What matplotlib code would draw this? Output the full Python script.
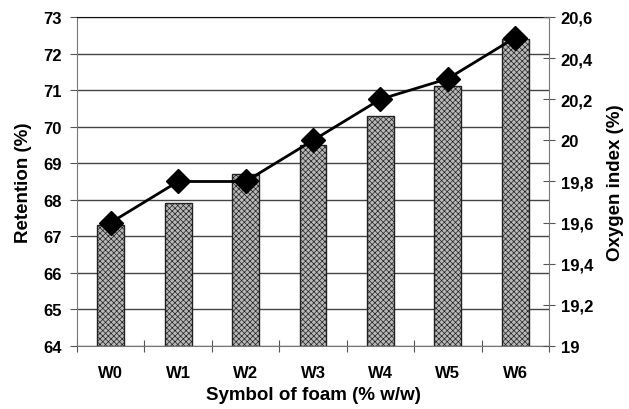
import matplotlib

matplotlib.use("Agg")
import matplotlib.pyplot as plt

foams = ["W0", "W1", "W2", "W3", "W4", "W5", "W6"]
retention = [67.3, 67.9, 68.7, 69.5, 70.3, 71.1, 72.4]
oxygen_index = [19.6, 19.8, 19.8, 20.0, 20.2, 20.3, 20.5]

plt.rcParams["font.family"] = ["Liberation Sans", "DejaVu Sans"]
plt.rcParams["font.weight"] = "bold"
plt.rcParams["hatch.linewidth"] = 0.5
plt.rcParams["hatch.color"] = "#333333"

fig = plt.figure(figsize=(6.29, 4.10), dpi=100)
ax = fig.add_axes([0.1224, 0.1537, 0.7504, 0.8024])
x = list(range(len(foams)))

# retention bars on the left axis, stippled grey
ax.bar(x, [r - 64 for r in retention], bottom=64, width=0.4,
       color="#b8b8b8", edgecolor="#222222", hatch="xxxxxx", linewidth=1.0, zorder=2)
ax.set_ylim(64, 73)
ax.set_xlim(-0.5, len(foams) - 0.5)
ax.set_yticks(range(64, 74))
ax.yaxis.grid(True, color="#444444", linewidth=1.0, zorder=0)
ax.set_axisbelow(True)
ax.set_xticks([i + 0.5 for i in range(-1, len(foams))], minor=False)
ax.set_xticklabels([])
ax.set_xticks(x, minor=True)
ax.set_xticklabels(foams, minor=True)
ax.tick_params(axis="x", which="major", direction="inout", length=8, color="#555555")
ax.tick_params(axis="x", which="minor", length=0, pad=14, labelsize=12)
ax.tick_params(axis="y", direction="out", length=5, color="#555555", labelsize=12, pad=6)
for side in ("left", "bottom"):
    ax.spines[side].set_color("#777777")
ax.spines["top"].set_color("#111111")
ax.spines["right"].set_visible(False)
ax.set_ylabel("Retention (%)", fontsize=13.5, fontweight="bold", labelpad=8)
ax.set_xlabel("Symbol of foam (% w/w)", fontsize=13.5, fontweight="bold", labelpad=4)

# oxygen index line on the right axis
ax2 = ax.twinx()
ax2.plot(x, oxygen_index, color="black", linewidth=2, marker="D", markersize=12, zorder=3)
ax2.set_ylim(19, 20.6)
ax2.set_yticks([19, 19.2, 19.4, 19.6, 19.8, 20, 20.2, 20.4, 20.6])
ax2.set_yticklabels(["19", "19,2", "19,4", "19,6", "19,8", "20", "20,2", "20,4", "20,6"])
ax2.tick_params(axis="y", direction="inout", length=9, color="#555555", labelsize=12, pad=4)
ax2.spines["right"].set_color("#777777")
for side in ("left", "top", "bottom"):
    ax2.spines[side].set_visible(False)
ax2.set_ylabel("Oxygen index (%)", fontsize=13.5, fontweight="bold", labelpad=10)

fig.savefig("out.png", dpi=100)
